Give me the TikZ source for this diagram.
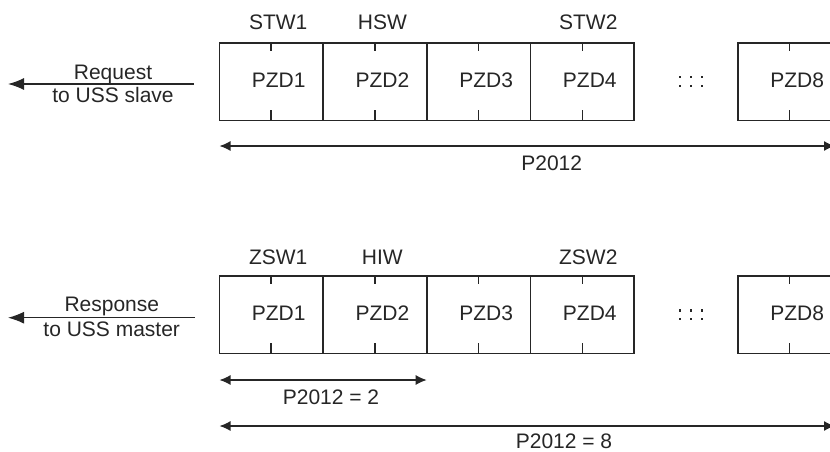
\documentclass[tikz,border=0pt]{standalone}
\usepackage{fontspec}
\setmainfont{Liberation Sans}
\usetikzlibrary{arrows.meta,calc}
\definecolor{ink}{HTML}{262626}
\begin{document}
\begin{tikzpicture}[x=1pt,y=-1pt,
  pzd/.style={draw=ink,line width=1.5pt,minimum width=103.7pt,minimum height=77.7pt,inner sep=0pt,outer sep=0pt},
  txt/.style={text=ink,font=\fontsize{21}{23}\selectfont,inner sep=0pt,anchor=base},
  tickline/.style={draw=ink,line width=1.5pt},
  dimline/.style={draw=ink,line width=1.3pt,{Latex[length=11pt,width=10pt]}-{Latex[length=11pt,width=10pt]}},
  ptr/.style={draw=ink,line width=1.3pt,-{Latex[length=16pt,width=12pt]}}]
\useasboundingbox (0,0) rectangle (830,451);

% ---------- top row (request) ----------
\foreach \n/\x in {1/271.2,2/374.9,3/478.6,4/582.3,8/789.6}{
  \node[pzd] (t\n) at (\x,81.85) {};
  \draw[tickline] (t\n.north) -- ++(0,8);
  \draw[tickline] (t\n.south) -- ++(0,-11);
  \node[txt] (tt\n) at ($(t\n.north)+(7.5,44.3)$) {PZD\n};
}
\node[txt] (stw1) at ($(t1.north)+(7,-13.7)$) {STW1};
\node[txt] (hsw)  at ($(t2.north)+(7.5,-13.7)$) {HSW};
\node[txt] (stw2) at ($(t4.north)+(6,-13.7)$) {STW2};

\foreach \xx in {680,690.7,702}{
  \fill[ink] (\xx-1.1,77.3-1.1) rectangle ++(2.2,2.2);
  \fill[ink] (\xx-1.1,86-1.1) rectangle ++(2.2,2.2);
}

\coordinate (rqs) at (194,84);
\coordinate (rqe) at (8,84);
\draw[ptr] (rqs) -- (rqe);
\node[txt] (rq1) at (113,79) {Request};
\node[txt] (rq2) at (113,102.3) {to USS slave};

\coordinate (d1l) at (219.5,146);
\coordinate (d1r) at (835,146);
\draw[dimline] (d1l) -- (d1r);
\node[txt] (p1) at (551.7,170.7) {P2012};

% ---------- bottom row (response) ----------
\foreach \n/\x in {1/271.2,2/374.9,3/478.6,4/582.3,8/789.6}{
  \node[pzd] (b\n) at (\x,314.85) {};
  \draw[tickline] (b\n.north) -- ++(0,8);
  \draw[tickline] (b\n.south) -- ++(0,-11);
  \node[txt] (bt\n) at ($(b\n.north)+(7.5,44.3)$) {PZD\n};
}
\node[txt] (zsw1) at ($(b1.north)+(7,-11.7)$) {ZSW1};
\node[txt] (hiw)  at ($(b2.north)+(7.5,-11.7)$) {HIW};
\node[txt] (zsw2) at ($(b4.north)+(6,-11.7)$) {ZSW2};

\foreach \xx in {680,690.7,702}{
  \fill[ink] (\xx-1.1,310.4-1.1) rectangle ++(2.2,2.2);
  \fill[ink] (\xx-1.1,319-1.1) rectangle ++(2.2,2.2);
}

\coordinate (rss) at (195,317.7);
\coordinate (rse) at (8,317.7);
\draw[ptr] (rss) -- (rse);
\node[txt] (rs1) at (111.8,311.7) {Response};
\node[txt] (rs2) at (111.7,336) {to USS master};

\coordinate (d2l) at (219.5,380);
\coordinate (d2r) at (426.7,380);
\draw[dimline] (d2l) -- (d2r);
\node[txt] (p2) at (331,404.3) {P2012 = 2};

\coordinate (d3l) at (219.5,426);
\coordinate (d3r) at (835,426);
\draw[dimline] (d3l) -- (d3r);
\node[txt] (p3) at (564,448) {P2012 = 8};
\end{tikzpicture}
\end{document}
